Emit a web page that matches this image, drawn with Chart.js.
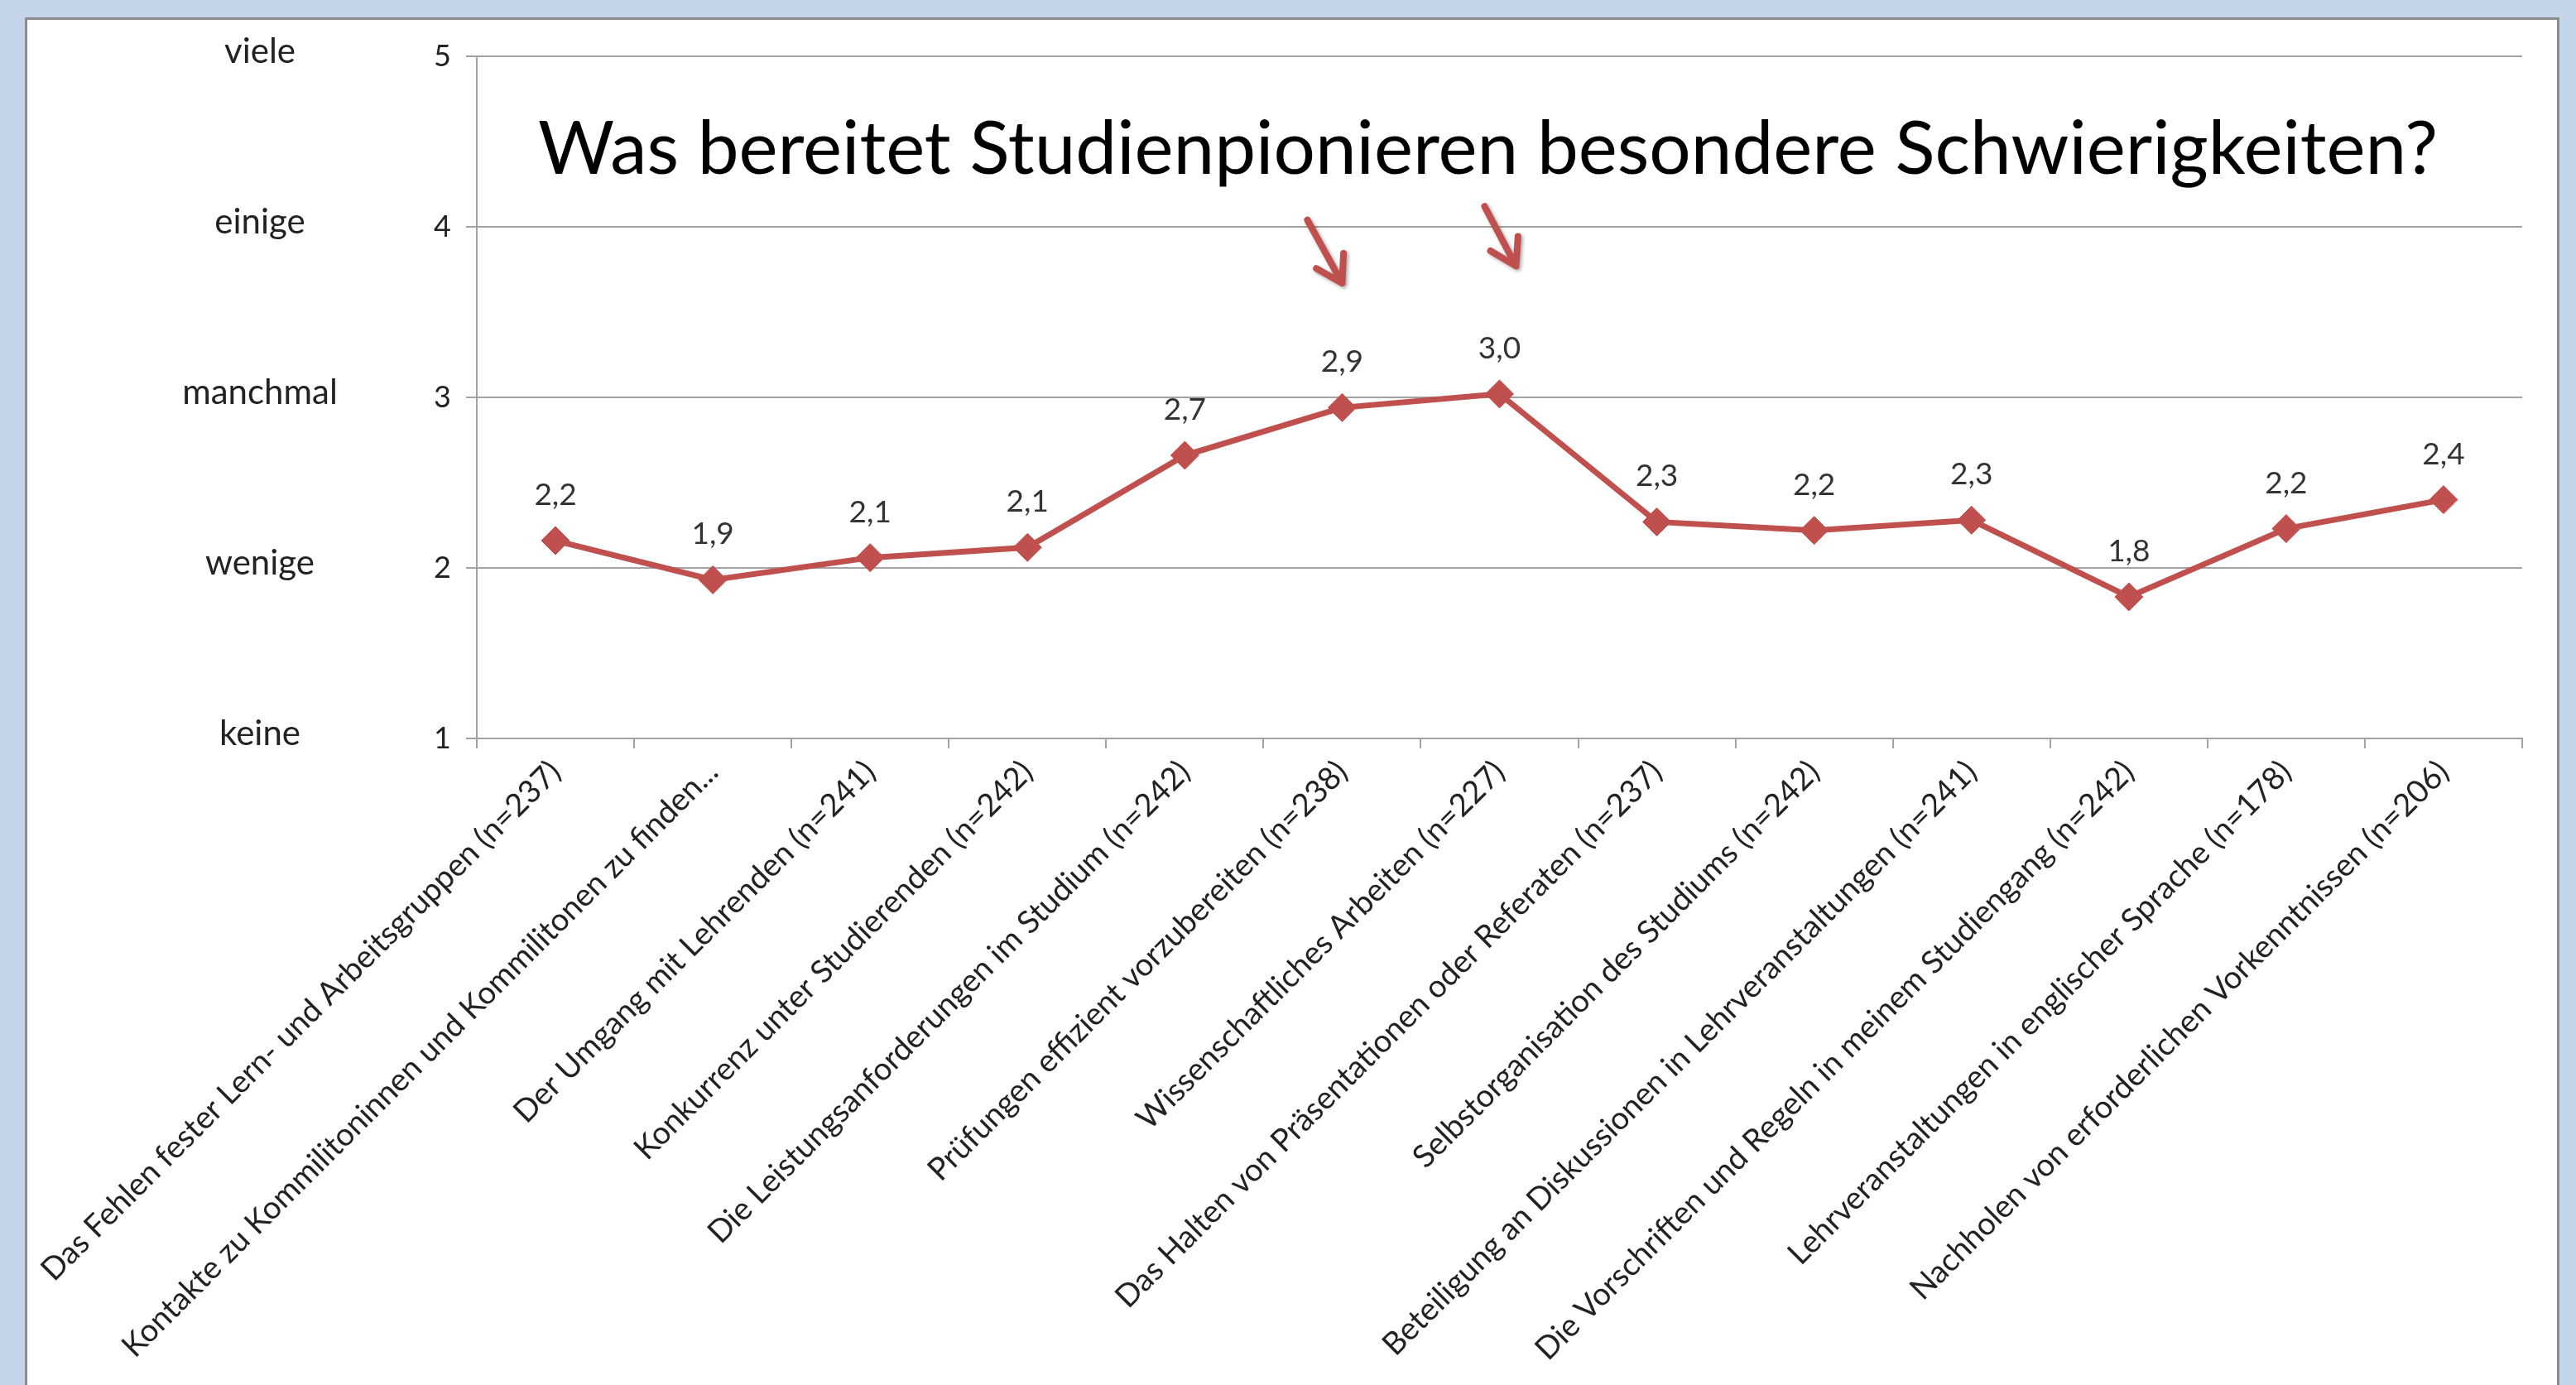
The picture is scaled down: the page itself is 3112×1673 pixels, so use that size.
<!DOCTYPE html>
<html lang="de">
<head>
<meta charset="utf-8">
<title>Was bereitet Studienpionieren besondere Schwierigkeiten?</title>
<script src="https://cdn.jsdelivr.net/npm/chart.js@4.4.1/dist/chart.umd.min.js"></script>
<style>
    html, body { margin: 0; padding: 0; width: 3112px; height: 1673px; overflow: hidden; background: #c5d5e9; }
    #panel { position: absolute; left: 30px; top: 21px; width: 3062px; height: 1700px; background: #fff; border: 3px solid #8c8c8c; box-sizing: border-box; }
    #chart { position: absolute; left: 0; top: 0; }
</style>
</head>
<body>
<div id="panel"></div>
<canvas id="chart" width="3112" height="1673"></canvas>
<script>
// Kategorien (x-Achse)
const kategorien = [
    "Das Fehlen fester Lern- und Arbeitsgruppen (n=237)",
    "Kontakte zu Kommilitoninnen und Kommilitonen zu finden...",
    "Der Umgang mit Lehrenden (n=241)",
    "Konkurrenz unter Studierenden (n=242)",
    "Die Leistungsanforderungen im Studium (n=242)",
    "Prüfungen effizient vorzubereiten (n=238)",
    "Wissenschaftliches Arbeiten (n=227)",
    "Das Halten von Präsentationen oder Referaten (n=237)",
    "Selbstorganisation des Studiums (n=242)",
    "Beteiligung an Diskussionen in Lehrveranstaltungen (n=241)",
    "Die Vorschriften und Regeln in meinem Studiengang (n=242)",
    "Lehrveranstaltungen in englischer Sprache (n=178)",
    "Nachholen von erforderlichen Vorkenntnissen (n=206)"
];

// Mittelwerte (1 = keine ... 5 = viele)
const mittelwerte = [2.16, 1.93, 2.06, 2.12, 2.66, 2.94, 3.02, 2.27, 2.22, 2.28, 1.83, 2.23, 2.40];

// Skala der y-Achse
const skalaWerte = [1, 2, 3, 4, 5];
const skalaWorte = ["keine", "wenige", "manchmal", "einige", "viele"];

const titelText = "Was bereitet Studienpionieren besondere Schwierigkeiten?";

// Hinweispfeile über den Kategorien 6 und 7
const hinweisPfeile = [
    { index: 5, vonWert: 4.04, bisWert: 3.67, dxSpitze: 0, dxEnde: -42 },
    { index: 6, vonWert: 4.12, bisWert: 3.77, dxSpitze: 20, dxEnde: -18 }
];

const ROT = "#c0504d";
const GRAU = "#a3a3a3";
const TEXT = "#222222";
const FONT = "Lato, 'Open Sans', sans-serif";

Chart.defaults.font.family = FONT;

/**
 * Zeichnet die Worte der Skala links neben den Zahlen.
 */
const skalaWortePlugin = {
    id: "skalaWorte",
    afterDraw(chart) {
        const ctx = chart.ctx;
        const y = chart.scales.y;
        ctx.save();
        ctx.font = "42px " + FONT;
        ctx.fillStyle = TEXT;
        ctx.textAlign = "center";
        ctx.textBaseline = "middle";
        skalaWerte.forEach((wert, i) => {
            ctx.fillText(skalaWorte[i], 314, y.getPixelForValue(wert) - 6);
        });
        ctx.restore();
    }
};

/**
 * Schreibt die Werte (mit Komma) über die Punkte.
 */
const datenWertePlugin = {
    id: "datenWerte",
    afterDatasetsDraw(chart) {
        const ctx = chart.ctx;
        const meta = chart.getDatasetMeta(0);
        ctx.save();
        ctx.font = "37px " + FONT;
        ctx.fillStyle = "#333333";
        ctx.textAlign = "center";
        ctx.textBaseline = "middle";
        meta.data.forEach((punkt, i) => {
            const text = mittelwerte[i].toFixed(1).replace(".", ",");
            ctx.fillText(text, punkt.x, punkt.y - 55);
        });
        ctx.restore();
    }
};

/**
 * Titel innerhalb der Zeichenfläche.
 */
const titelPlugin = {
    id: "titelInnen",
    afterDraw(chart) {
        const ctx = chart.ctx;
        const area = chart.chartArea;
        ctx.save();
        ctx.font = "89px " + FONT;
        ctx.fillStyle = "#000";
        ctx.textAlign = "center";
        ctx.textBaseline = "middle";
        ctx.fillText(titelText, (area.left + area.right) / 2 - 14, chart.scales.y.getPixelForValue(4.45));
        ctx.restore();
    }
};

/**
 * Rote Pfeile, die auf die beiden Spitzenwerte zeigen.
 */
const pfeilPlugin = {
    id: "pfeile",
    afterDraw(chart) {
        const ctx = chart.ctx;
        const x = chart.scales.x;
        const y = chart.scales.y;
        ctx.save();
        ctx.strokeStyle = ROT;
        ctx.lineWidth = 8;
        ctx.lineCap = "round";
        ctx.lineJoin = "round";
        ctx.shadowColor = "rgba(0,0,0,0.35)";
        ctx.shadowBlur = 4;
        ctx.shadowOffsetX = 2;
        ctx.shadowOffsetY = 2;
        hinweisPfeile.forEach(p => {
            const cx = x.getPixelForValue(p.index);
            const sx = cx + p.dxSpitze;
            const sy = y.getPixelForValue(p.bisWert);
            const ex = cx + p.dxEnde;
            const ey = y.getPixelForValue(p.vonWert);
            const winkel = Math.atan2(ey - sy, ex - sx);
            const lang = 36;
            ctx.beginPath();
            ctx.moveTo(ex, ey);
            ctx.lineTo(sx, sy);
            ctx.moveTo(sx + lang * Math.cos(winkel + 0.55), sy + lang * Math.sin(winkel + 0.55));
            ctx.lineTo(sx, sy);
            ctx.lineTo(sx + lang * Math.cos(winkel - 0.55), sy + lang * Math.sin(winkel - 0.55));
            ctx.stroke();
        });
        ctx.restore();
    }
};

function renderChart() {
    const canvas = document.getElementById("chart");
    const ctx = canvas.getContext("2d");

    new Chart(ctx, {
        type: "line",
        data: {
            labels: kategorien,
            datasets: [{
                label: "Mittelwert",
                data: mittelwerte,
                borderColor: ROT,
                backgroundColor: ROT,
                borderWidth: 7,
                pointStyle: "rectRot",
                pointRadius: 17,
                pointBorderWidth: 1,
                pointBackgroundColor: ROT,
                pointBorderColor: ROT,
                tension: 0,
                fill: false
            }]
        },
        options: {
            responsive: false,
            animation: false,
            layout: {
                padding: { left: 476, top: 68, right: 65, bottom: 0 }
            },
            plugins: {
                legend: { display: false },
                tooltip: { enabled: false },
                title: { display: false }
            },
            scales: {
                x: {
                    offset: true,
                    grid: {
                        offset: true,
                        drawOnChartArea: false,
                        drawTicks: true,
                        tickLength: 12,
                        color: GRAU,
                        lineWidth: 2
                    },
                    border: { display: true, color: GRAU, width: 2 },
                    ticks: {
                        autoSkip: false,
                        minRotation: 45,
                        maxRotation: 45,
                        padding: 6,
                        color: TEXT,
                        font: { size: 38 }
                    },
                    afterFit(scale) {
                        scale.height = 781;
                        scale.paddingLeft = 0;
                        scale.paddingRight = 0;
                    }
                },
                y: {
                    min: 1,
                    max: 5,
                    grid: {
                        color: GRAU,
                        lineWidth: 2,
                        drawTicks: true,
                        tickLength: 13
                    },
                    border: { display: true, color: GRAU, width: 2 },
                    ticks: {
                        stepSize: 1,
                        padding: 18,
                        color: TEXT,
                        font: { size: 36 }
                    },
                    afterFit(scale) {
                        scale.width = 100;
                    }
                }
            }
        },
        plugins: [skalaWortePlugin, datenWertePlugin, titelPlugin, pfeilPlugin]
    });
}

renderChart();
</script>
</body>
</html>
